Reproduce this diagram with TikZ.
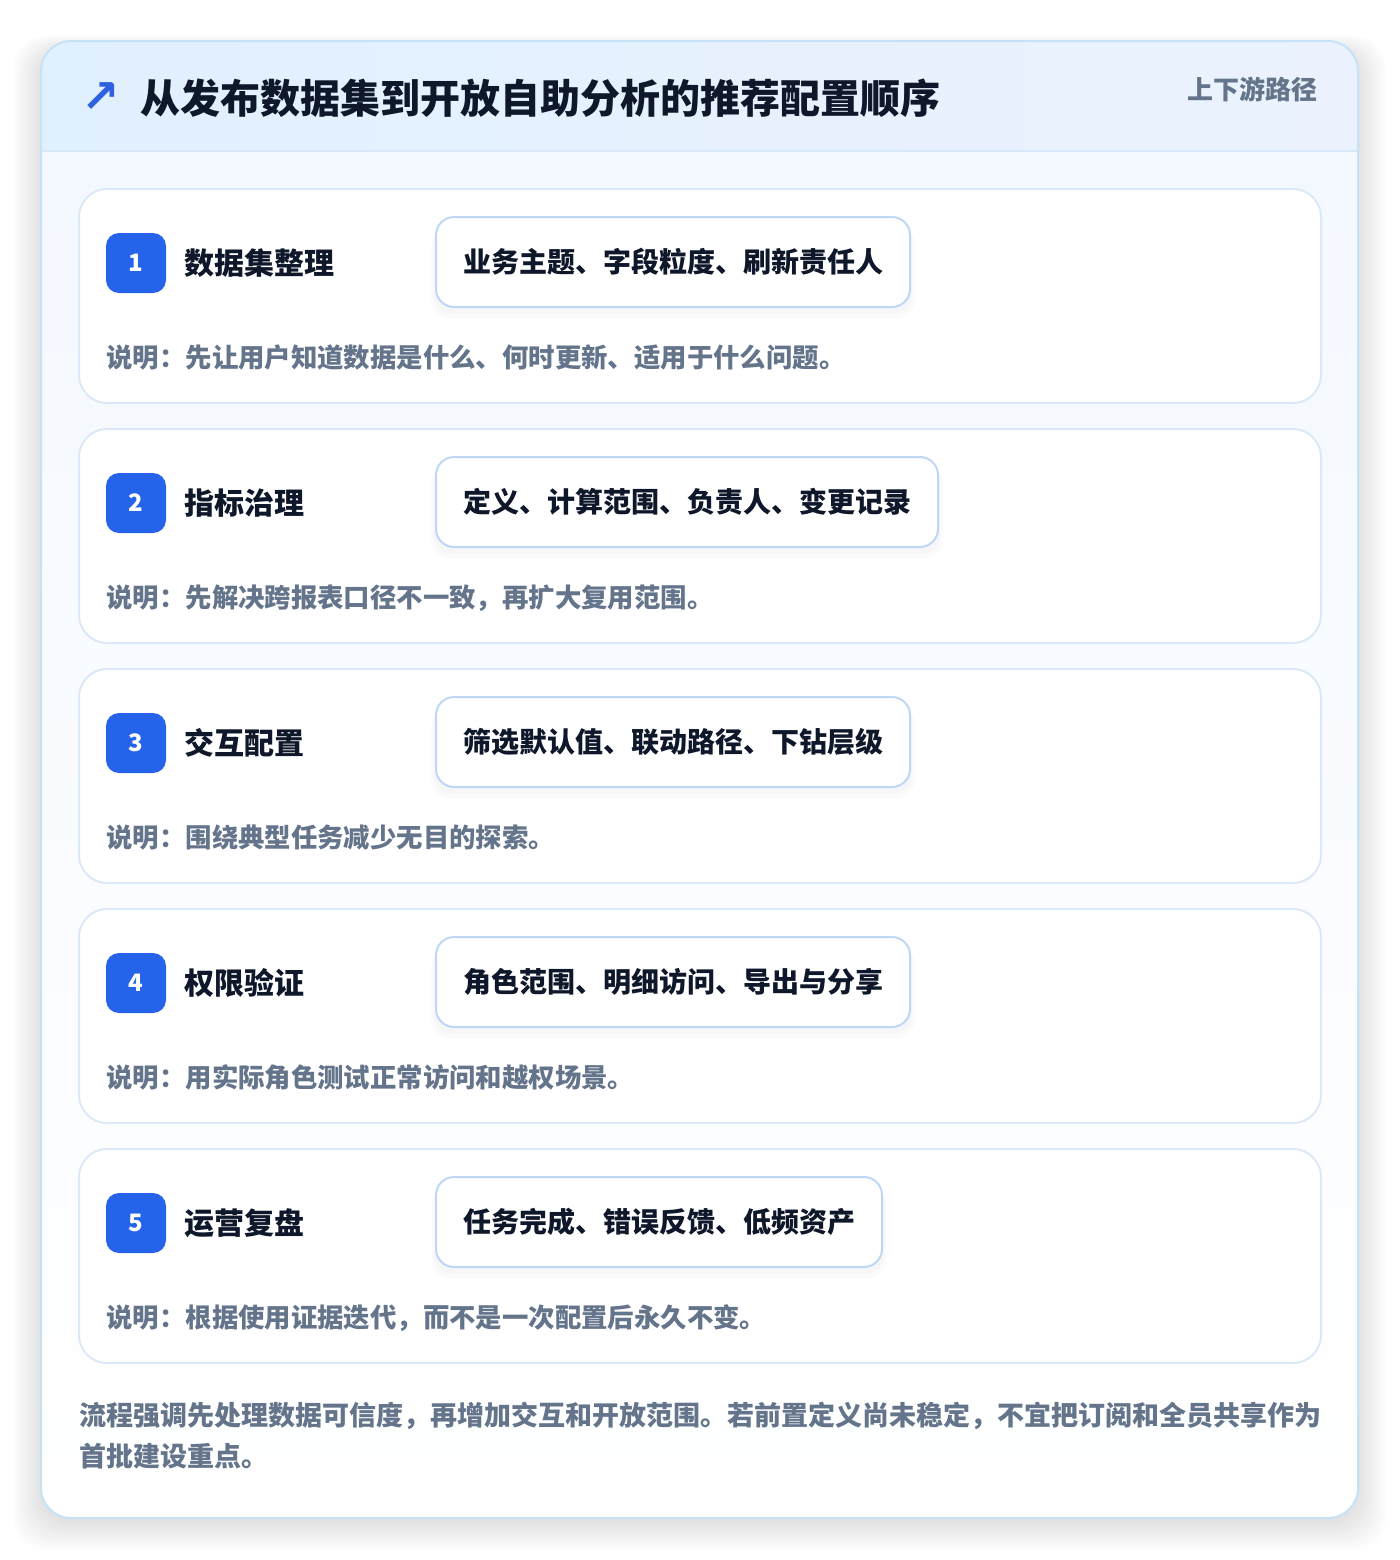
\documentclass[tikz,border=0pt]{standalone}
\usepackage{fontspec}
\setmainfont{Noto Sans CJK SC}
\newfontfamily\symfont{DejaVu Sans}
\usetikzlibrary{shadows}
\definecolor{ink}{HTML}{0F172A}
\definecolor{muted}{HTML}{64748B}
\definecolor{badgeblue}{HTML}{2563EB}
\definecolor{arrowblue}{HTML}{2F62E0}
\definecolor{cardline}{HTML}{DCE9F8}
\definecolor{tagline}{HTML}{BFD7F6}
\definecolor{outerline}{HTML}{C5E2F6}
\definecolor{headleft}{HTML}{E1F0FE}
\definecolor{headright}{HTML}{EBF2FD}
\definecolor{headline}{HTML}{D8E8FA}
\definecolor{bodytop}{HTML}{F3F8FF}
\tikzset{
  stepcard/.style={draw=cardline,line width=1pt,fill=white,rounded corners=14pt},
  badgebox/.style={fill=badgeblue,rounded corners=6.5pt,minimum width=30pt,minimum height=30pt,
    inner sep=0pt,text=white,font=\fontsize{12}{12}\selectfont\bfseries},
  steptitle/.style={anchor=base west,inner sep=0pt,text=ink,font=\fontsize{15}{15}\selectfont\bfseries},
  tagbox/.style={anchor=west,draw=tagline,line width=1pt,fill=white,rounded corners=9pt,
    minimum height=45pt,inner xsep=13.5pt,text=ink,font=\fontsize{14}{14}\selectfont\bfseries,
    drop shadow={shadow xshift=0pt,shadow yshift=-5pt,shadow scale=1.02,opacity=0.015,fill=black},
    drop shadow={shadow xshift=0pt,shadow yshift=-3pt,shadow scale=1.01,opacity=0.02,fill=black}},
  notetext/.style={anchor=base west,inner sep=0pt,text=muted,font=\fontsize{13.2}{13.2}\selectfont\bfseries},
  foottext/.style={anchor=base west,inner sep=0pt,text=muted,font=\fontsize{13.5}{13.5}\selectfont\bfseries},
}
\begin{document}
\begin{tikzpicture}[x=0.5pt,y=-0.5pt,line join=round]
  \useasboundingbox (0,0) rectangle (1400,1560);
  \fill[white] (0,0) rectangle (1400,1560);
  % soft shadow of the outer card
  \foreach \k in {1,...,14}
    \fill[black,opacity=0.006,rounded corners=16pt]
      (41-2*\k,50-\k) rectangle (1358+2*\k,1522+2*\k);
  % outer card
  \shade[top color=bodytop,bottom color=white,rounded corners=15pt] (41,41) rectangle (1358,1518);
  \begin{scope}
    \clip[rounded corners=15pt] (41,41) rectangle (1358,1518);
    \shade[left color=headleft,right color=headright] (41,41) rectangle (1358,151);
  \end{scope}
  \draw[headline,line width=1pt] (41,151) -- (1358,151);
  \draw[outerline,line width=1pt,rounded corners=15pt] (41,41) rectangle (1358,1518);
  % header
  \node[text=arrowblue,font=\symfont\bfseries\fontsize{23}{23}\selectfont,inner sep=0pt] (icon) at (101,98) {↗};
  \node[anchor=base west,inner sep=0pt,text=ink,font=\fontsize{20}{20}\selectfont\bfseries] (title) at (140,113)
    {从发布数据集到开放自助分析的推荐配置顺序};
  \node[anchor=base east,inner sep=0pt,text=muted,font=\fontsize{13}{13}\selectfont\bfseries] (route) at (1318,99)
    {上下游路径};
  % steps
  \foreach \i/\name/\tags/\note in {
    1/数据集整理/{业务主题、字段粒度、刷新责任人}/{说明：先让用户知道数据是什么、何时更新、适用于什么问题。},
    2/指标治理/{定义、计算范围、负责人、变更记录}/{说明：先解决跨报表口径不一致，再扩大复用范围。},
    3/交互配置/{筛选默认值、联动路径、下钻层级}/{说明：围绕典型任务减少无目的探索。},
    4/权限验证/{角色范围、明细访问、导出与分享}/{说明：用实际角色测试正常访问和越权场景。},
    5/运营复盘/{任务完成、错误反馈、低频资产}/{说明：根据使用证据迭代，而不是一次配置后永久不变。}}
  {
    \pgfmathtruncatemacro\top{189+240*(\i-1)}
    \draw[stepcard] (79,\top) rectangle (1321,\top+214);
    \node[badgebox] (badge\i) at (136,\top+74) {\i};
    \node[steptitle] (name\i) at (184,\top+85) {\name};
    \node[tagbox] (tag\i) at (435,\top+73) {\tags};
    \node[notetext] (note\i) at (106,\top+178) {\note};
  }
  % closing remark
  \node[foottext] (foot1) at (79,1425)
    {流程强调先处理数据可信度，再增加交互和开放范围。若前置定义尚未稳定，不宜把订阅和全员共享作为};
  \node[foottext] (foot2) at (79,1466) {首批建设重点。};
\end{tikzpicture}
\end{document}
